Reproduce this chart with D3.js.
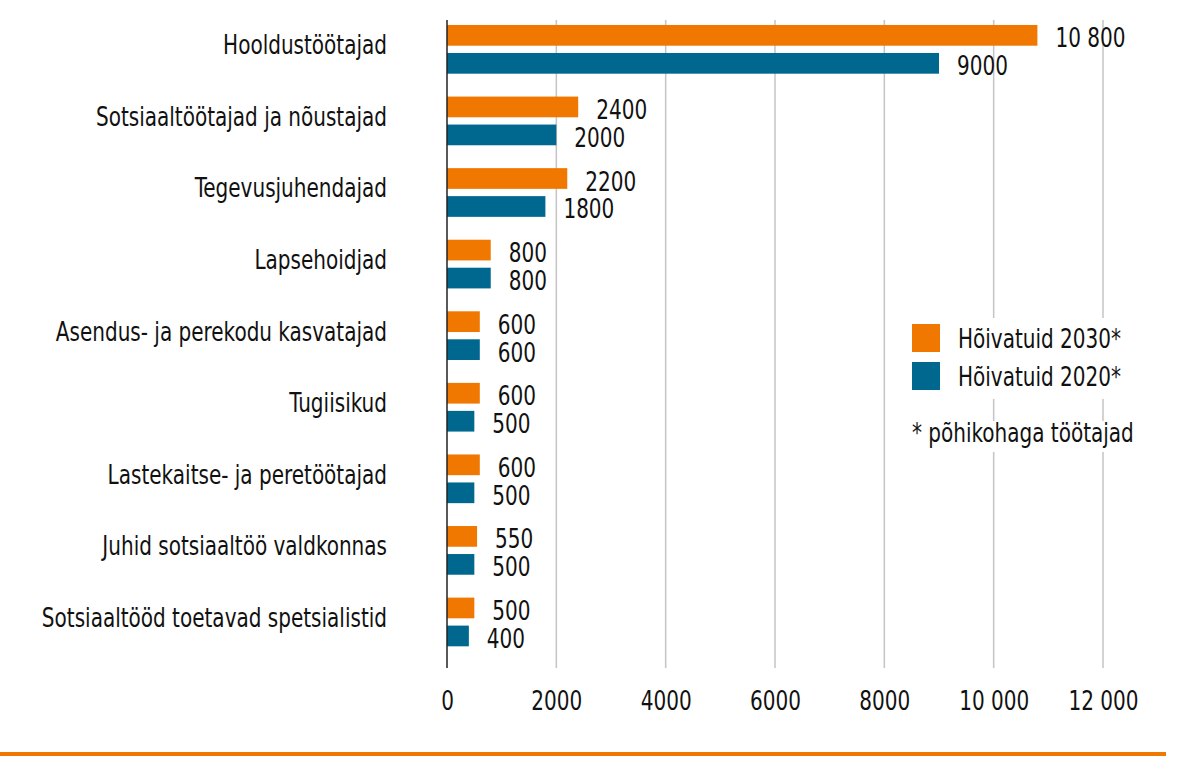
<!DOCTYPE html>
<html>
<head>
<meta charset="utf-8">
<script src="https://cdn.jsdelivr.net/npm/d3@7"></script>
<style>
  body { margin: 0; background: #fff; }
  svg text { font-family: "Liberation Sans Narrow", "DejaVu Sans Condensed", "Liberation Sans", sans-serif; font-stretch: condensed; fill: #111; }
</style>
</head>
<body>
<div id="chart"></div>
<script>
// Categories and values
const categories = [
    "Hooldustöötajad",
    "Sotsiaaltöötajad ja nõustajad",
    "Tegevusjuhendajad",
    "Lapsehoidjad",
    "Asendus- ja perekodu kasvatajad",
    "Tugiisikud",
    "Lastekaitse- ja peretöötajad",
    "Juhid sotsiaaltöö valdkonnas",
    "Sotsiaaltööd toetavad spetsialistid"
];
const values2030 = [10800, 2400, 2200, 800, 600, 600, 600, 550, 500];
const values2020 = [9000, 2000, 1800, 800, 600, 500, 500, 500, 400];
const seriesNames = ["Hõivatuid 2030*", "Hõivatuid 2020*"];
const seriesColors = ["#f07800", "#00688f"];
const xTicks = [0, 2000, 4000, 6000, 8000, 10000, 12000];
const footnote = "* põhikohaga töötajad";

const W = 1179, H = 764;
const fontSize = 26;
const squeeze = 0.856; // the original face is narrower than the installed one

const svg = d3.select("#chart")
    .append("svg")
    .attr("width", W)
    .attr("height", H);

// place a text at (px, py) squeezed horizontally
function label(parent, px, py, str, anchor) {
    return parent.append("text")
        .attr("transform", `translate(${px},${py}) scale(${squeeze},1)`)
        .attr("text-anchor", anchor || "start")
        .style("font-size", fontSize + "px")
        .text(str);
}

// Scales
const x = d3.scaleLinear()
    .domain([0, 12000])
    .range([447, 1103]);

const y = d3.scaleBand()
    .domain(categories)
    .range([13.5, 657.7]);

const ySub = d3.scaleBand()
    .domain([0, 1])
    .range([0, 48.7])
    .paddingInner(0.26);

const rowTop = c => y(c) + y.bandwidth() / 2 - 24.3;

// Format numbers Estonian style: space only from 10 000 up
const fmt = d => d >= 10000 ? d3.format(",")(d).replace(/,/g, " ") : String(d);

// Gridlines
svg.append("g")
    .selectAll("line")
    .data(xTicks.slice(1))
    .enter()
    .append("line")
    .attr("x1", d => x(d))
    .attr("x2", d => x(d))
    .attr("y1", 20)
    .attr("y2", 668)
    .attr("stroke", "#c4c4c4")
    .attr("stroke-width", 1.5);

// X axis tick labels
svg.append("g")
    .attr("transform", "translate(0,668)")
    .call(d3.axisBottom(x).tickValues(xTicks).tickFormat(fmt).tickSize(0).tickPadding(24))
    .call(g => g.select(".domain").remove())
    .selectAll("text")
    .attr("transform", `scale(${squeeze},1)`)
    .style("font-size", fontSize + "px")
    .attr("fill", "#111");

// Legend backgrounds (hide gridlines)
svg.append("rect").attr("x", 896).attr("y", 318).attr("width", 250).attr("height", 81).attr("fill", "#fff");
svg.append("rect").attr("x", 896).attr("y", 421).attr("width", 255).attr("height", 31).attr("fill", "#fff");

// Bars and value labels
const series = [values2030, values2020];
series.forEach((vals, s) => {
    const g = svg.append("g");
    g.selectAll("rect")
        .data(categories)
        .enter()
        .append("rect")
        .attr("x", x(0))
        .attr("y", (c) => rowTop(c) + ySub(s))
        .attr("width", (c, i) => x(vals[i]) - x(0))
        .attr("height", ySub.bandwidth())
        .attr("fill", seriesColors[s]);

    categories.forEach((c, i) => {
        label(g, x(vals[i]) + 18, rowTop(c) + ySub(s) + ySub.bandwidth() / 2 + 12, fmt(vals[i]));
    });
});

// Zero axis line
svg.append("line")
    .attr("x1", x(0))
    .attr("x2", x(0))
    .attr("y1", 20)
    .attr("y2", 668)
    .attr("stroke", "#222")
    .attr("stroke-width", 1.5);

// Category labels
const catG = svg.append("g");
categories.forEach(c => {
    label(catG, 387, y(c) + y.bandwidth() / 2 + 5, c, "end");
});

// Legend
const legend = svg.append("g");
seriesNames.forEach((name, i) => {
    legend.append("rect")
        .attr("x", 912)
        .attr("y", 324 + i * 38)
        .attr("width", 28)
        .attr("height", 28)
        .attr("fill", seriesColors[i]);
    label(legend, 958, 348 + i * 38, name);
});
label(legend, 912, 442, footnote);

// Bottom orange rule
svg.append("line")
    .attr("x1", 0)
    .attr("x2", 1166)
    .attr("y1", 754)
    .attr("y2", 754)
    .attr("stroke", "#f07800")
    .attr("stroke-width", 4);
</script>
</body>
</html>
